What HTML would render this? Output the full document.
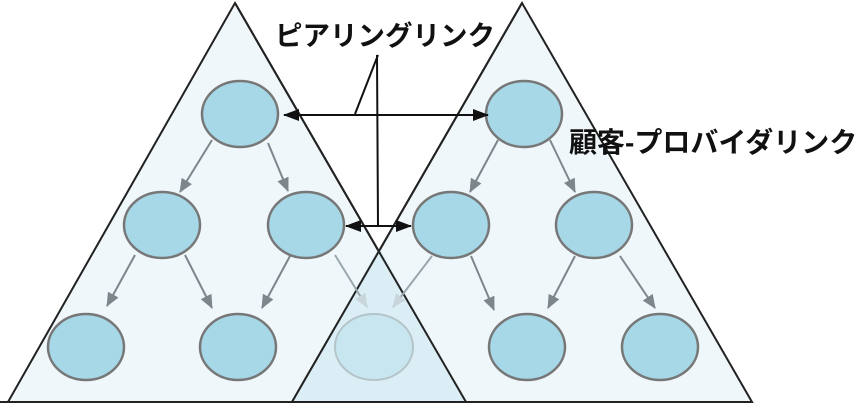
<!DOCTYPE html>
<html><head><meta charset="utf-8"><style>html,body{margin:0;padding:0;background:#fff}svg{display:block}</style></head><body>
<svg width="859" height="404" viewBox="0 0 859 404" xmlns="http://www.w3.org/2000/svg">
<defs>
<marker id="g" markerWidth="14" markerHeight="12" refX="13" refY="6" orient="auto" markerUnits="userSpaceOnUse" viewBox="0 0 14 12"><path d="M0,0 L14,6 L0,12 z" fill="#7d868a"/></marker>
<marker id="gl" markerWidth="14" markerHeight="12" refX="13" refY="6" orient="auto" markerUnits="userSpaceOnUse" viewBox="0 0 14 12"><path d="M0,0 L14,6 L0,12 z" fill="#c8d6dc"/></marker>
<marker id="b" markerWidth="16" markerHeight="12" refX="15" refY="6" orient="auto" markerUnits="userSpaceOnUse" viewBox="0 0 16 12"><path d="M0,0 L16,6 L0,12 z" fill="#111"/></marker>
</defs>
<polygon points="235,3 8,402 466,402" fill="#eff7fa" stroke="#222" stroke-width="2"/>
<polygon points="522,3 292,402 752,402" fill="#eff7fa" stroke="#222" stroke-width="2"/>
<polygon points="379,247 292,402 466,402" fill="#dceef5"/>
<line x1="235" y1="3" x2="466" y2="402" stroke="#222" stroke-width="2"/>
<line x1="522" y1="3" x2="292" y2="402" stroke="#222" stroke-width="2"/>
<line x1="0" y1="402" x2="752" y2="402" stroke="#222" stroke-width="2"/>
<g stroke="#7d868a" stroke-width="2" marker-end="url(#g)">
<line x1="212" y1="140" x2="180" y2="192"/>
<line x1="268" y1="143" x2="288" y2="191"/>
<line x1="135" y1="255" x2="107" y2="306"/>
<line x1="185" y1="255" x2="212" y2="308"/>
<line x1="290" y1="256" x2="262" y2="308"/>
<line x1="498" y1="140" x2="470" y2="192"/>
<line x1="550" y1="140" x2="575" y2="192"/>
<line x1="471" y1="256" x2="494" y2="310"/>
<line x1="575" y1="256" x2="548" y2="308"/>
<line x1="620" y1="256" x2="655" y2="308"/>
</g>
<g stroke="#9aa8ae" stroke-width="2" marker-end="url(#gl)">
<line x1="335" y1="255" x2="367" y2="307"/>
<line x1="432" y1="256" x2="393" y2="307"/>
</g>
<g fill="#a6d8e8" stroke="#777" stroke-width="2.5">
<ellipse cx="240" cy="114" rx="38" ry="33"/>
<ellipse cx="162" cy="225" rx="38" ry="33"/>
<ellipse cx="306" cy="225" rx="38" ry="33"/>
<ellipse cx="86" cy="347" rx="38" ry="33"/>
<ellipse cx="238" cy="347" rx="38" ry="33"/>
<ellipse cx="524" cy="114" rx="38" ry="33"/>
<ellipse cx="451" cy="225" rx="38" ry="33"/>
<ellipse cx="594" cy="225" rx="38" ry="33"/>
<ellipse cx="527" cy="347" rx="38" ry="33"/>
<ellipse cx="660" cy="347" rx="38" ry="33"/>
</g>
<ellipse cx="374" cy="347" rx="39" ry="33" fill="#c8e6f0" stroke="#b4c4c8" stroke-width="2"/>
<g stroke="#111" stroke-width="2" fill="none">
<line x1="300" y1="115" x2="284" y2="115" marker-end="url(#b)"/>
<line x1="300" y1="115" x2="488" y2="115" marker-end="url(#b)"/>
<line x1="370" y1="226" x2="346" y2="226" marker-end="url(#b)"/>
<line x1="370" y1="226" x2="411" y2="226" marker-end="url(#b)"/>
<line x1="378" y1="55" x2="355" y2="114"/>
<line x1="377" y1="55" x2="378" y2="226"/>
</g>
<text x="385" y="45" text-anchor="middle" font-family="'Liberation Sans','Noto Sans CJK JP',sans-serif" font-size="27.5" font-weight="bold" fill="#111">ピアリングリンク</text>
<text x="569" y="152" font-family="'Liberation Sans','Noto Sans CJK JP',sans-serif" font-size="28" font-weight="bold" fill="#111">顧客-プロバイダリンク</text>
</svg>
</body></html>
